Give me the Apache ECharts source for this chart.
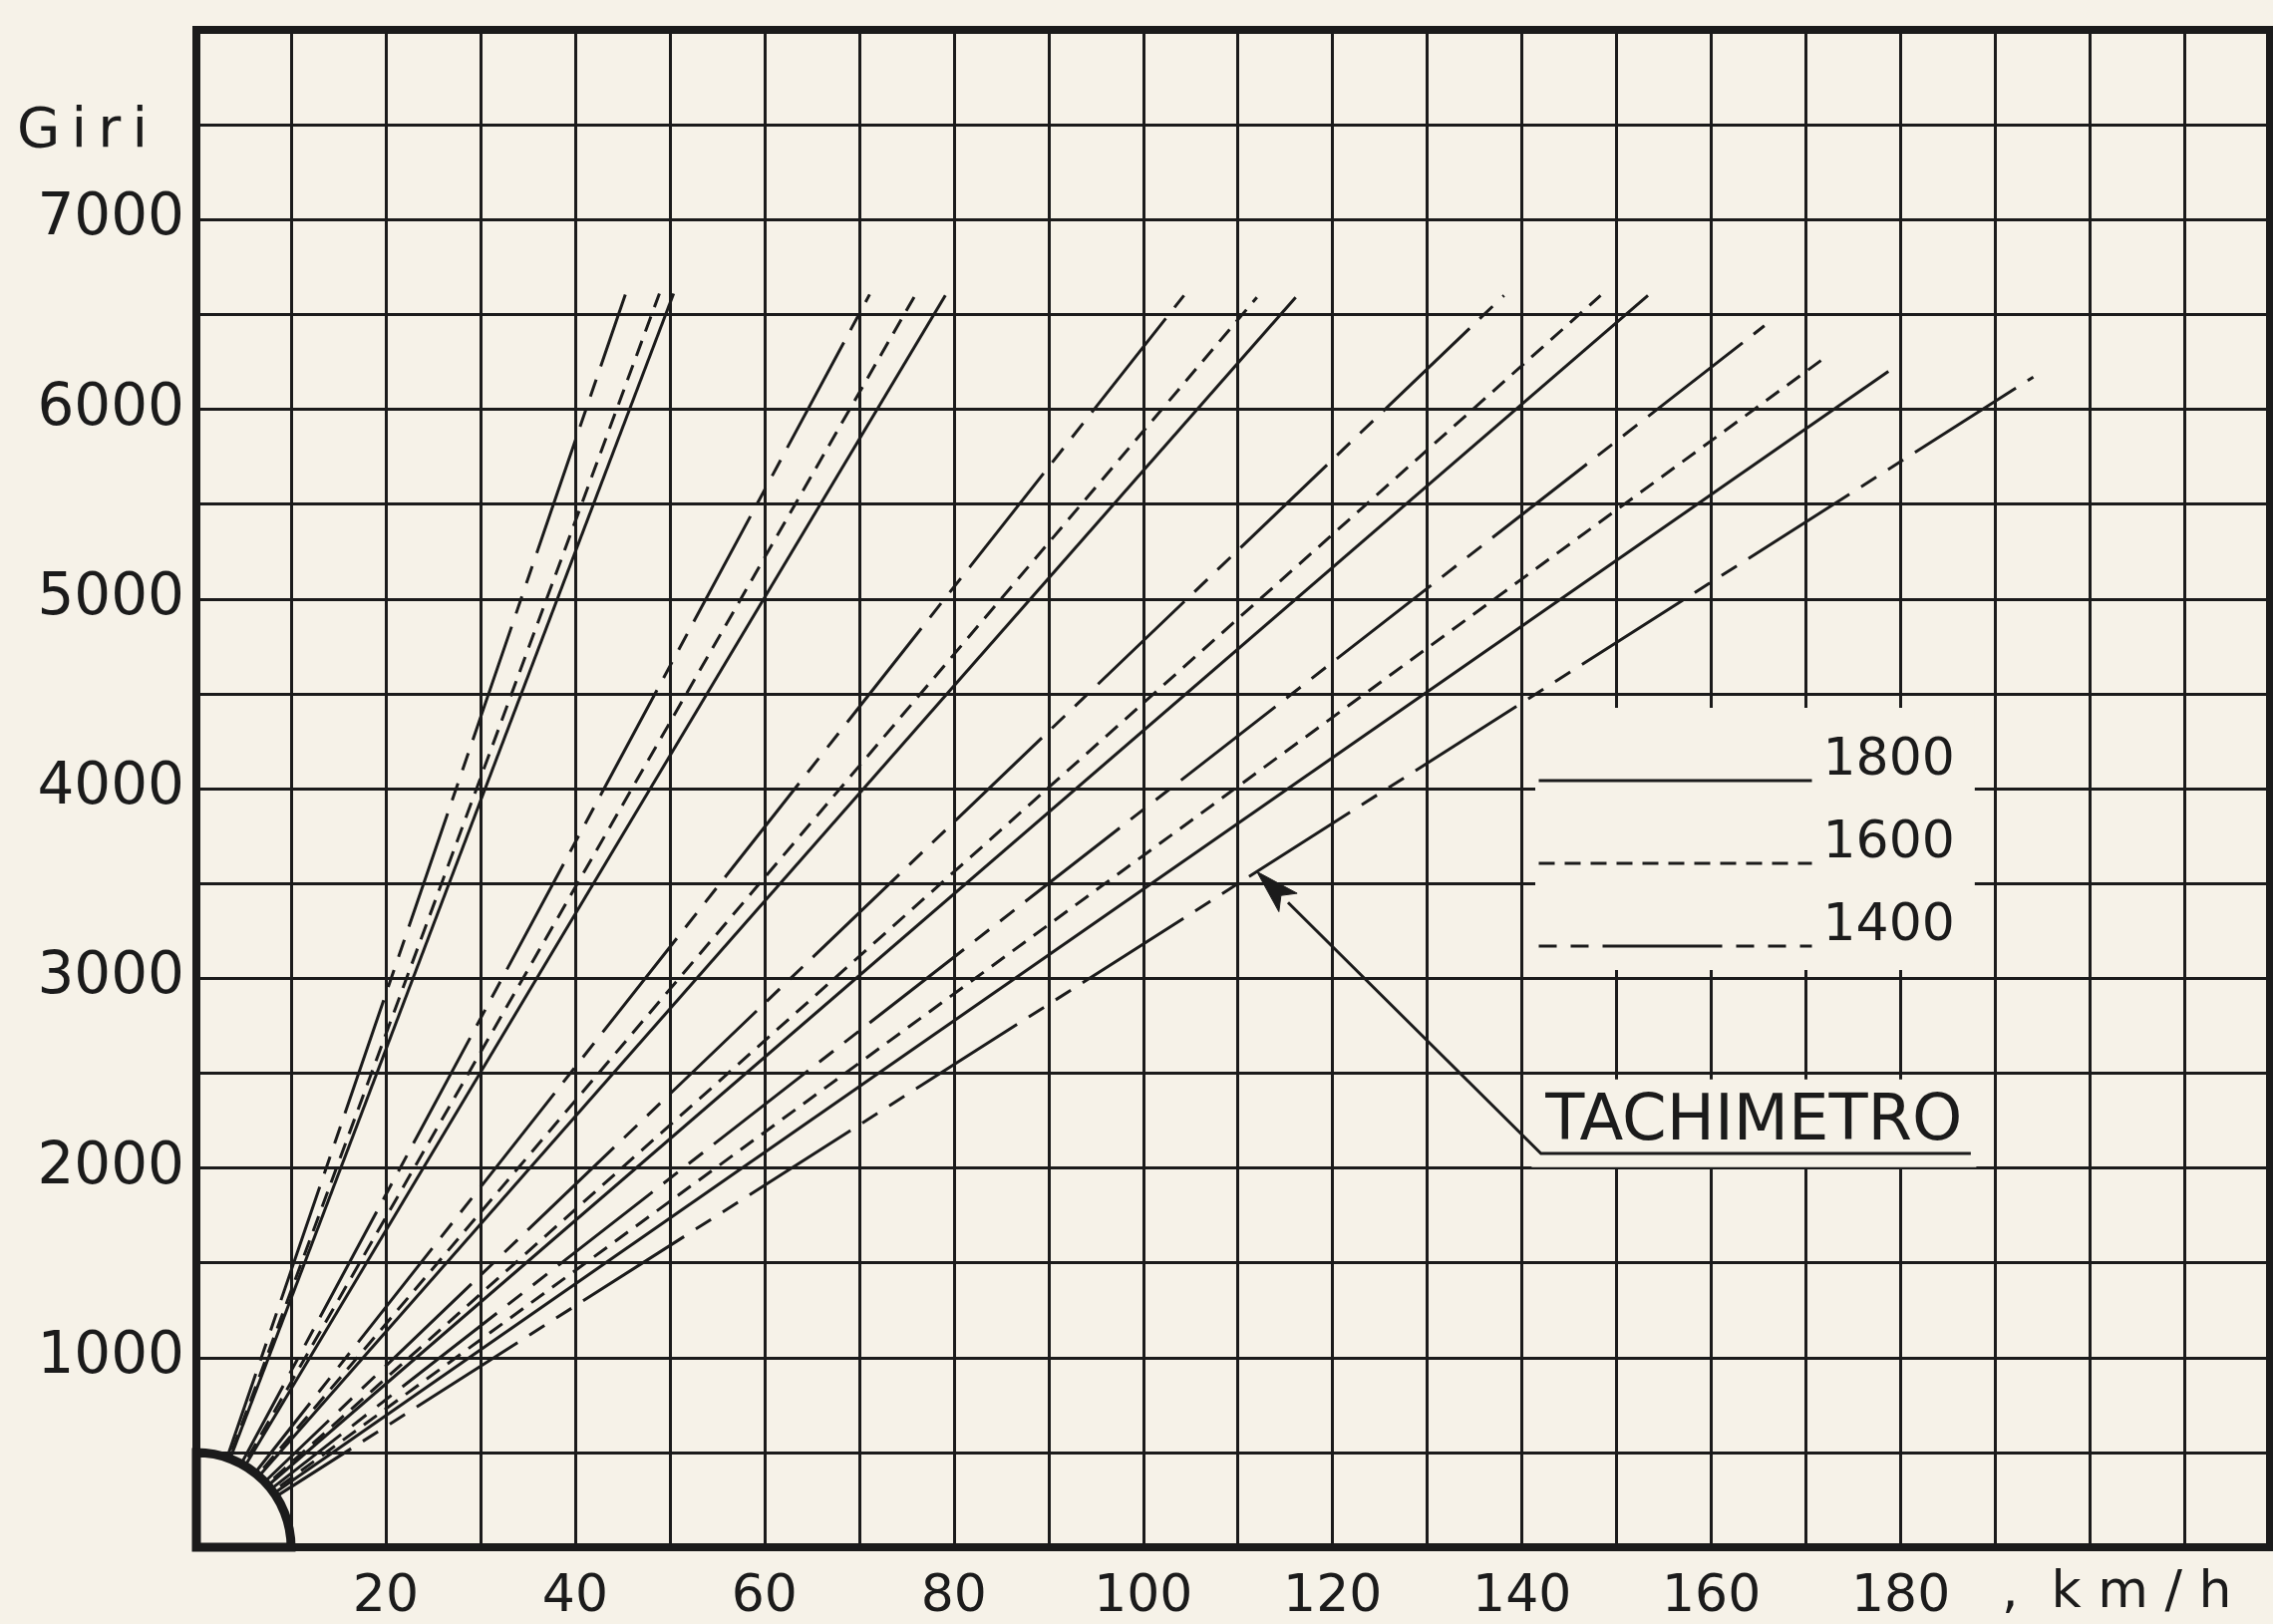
<!DOCTYPE html>
<html>
<head>
<meta charset="utf-8">
<title>Giri - km/h</title>
<script src="https://cdn.jsdelivr.net/npm/echarts@6/dist/echarts.min.js"></script>
<style>
  html, body { margin: 0; padding: 0; background: #f6f2e8; }
  #chart { width: 2280px; height: 1629px; }
</style>
</head>
<body>
<div id="chart"></div>
<script>
// fine di ogni marcia: velocita (km/h) e giri motore, per cilindrata
const kmh1800 = [50.4, 79.1, 116.1, 153.3, 178.7];
const giri1800 = [6610, 6600, 6590, 6600, 6200];
const kmh1600 = [48.9, 75.9, 112.0, 148.3, 171.8];
const giri1600 = [6610, 6600, 6590, 6600, 6265];
const kmh1400 = [45.3, 71.1, 104.3, 138.1, 165.6, 194.0];
const giri1400 = [6605, 6605, 6600, 6600, 6440, 6170];

const cilindrate = ['1800', '1600', '1400'];
const xTicks = [20, 40, 60, 80, 100, 120, 140, 160, 180];
const yTicks = [1000, 2000, 3000, 4000, 5000, 6000, 7000];

const PAPER = '#f6f2e8';
const INK = '#1b1b1b';
const FONT = 'DejaVu Sans';

const tratti = {
  '1800': { type: 'solid', dashOffset: 0 },
  '1600': { type: [16, 10], dashOffset: 0 },
  '1400': { type: [120, 14, 18, 14, 18, 14], dashOffset: 134 }
};

function rette(nome, kmh, giri) {
  return kmh.map((v, i) => ({
    name: nome,
    type: 'line',
    data: [[0, 0], [v, giri[i]]],
    symbol: 'none',
    silent: true,
    z: 3,
    itemStyle: { color: INK },
    lineStyle: {
      color: INK,
      width: 3,
      type: tratti[nome].type,
      dashOffset: tratti[nome].dashOffset
    }
  }));
}

var chart = echarts.init(document.getElementById('chart'));

var serie = []
  .concat(rette('1800', kmh1800, giri1800))
  .concat(rette('1600', kmh1600, giri1600))
  .concat(rette('1400', kmh1400, giri1400));

// mozzo nell'angolo in basso a sinistra
serie.push({
  type: 'custom',
  name: 'mozzo',
  silent: true,
  z: 10,
  data: [[0, 0]],
  renderItem: function (params, api) {
    var o = api.coord([0, 0]);
    var r = api.size([10, 0])[0];
    return {
      type: 'sector',
      shape: { cx: o[0], cy: o[1], r: r, r0: 0, startAngle: -Math.PI / 2, endAngle: 0, clockwise: true },
      style: { fill: PAPER, stroke: INK, lineWidth: 9 }
    };
  }
});

var option = {
  backgroundColor: PAPER,
  animation: false,
  grid: {
    left: 197, right: 3, top: 30, bottom: 77,
    show: true, borderWidth: 8, borderColor: INK, backgroundColor: 'transparent'
  },
  xAxis: {
    type: 'value', min: 0, max: 219, interval: 10,
    axisLine: { show: false },
    axisTick: { show: false },
    splitLine: { show: true, lineStyle: { color: INK, width: 3 } },
    axisLabel: {
      margin: 24, fontFamily: FONT, fontSize: 52, color: INK,
      formatter: function (v) { return xTicks.indexOf(v) >= 0 ? String(v) : ''; }
    }
  },
  yAxis: {
    type: 'value', min: 0, max: 8000, interval: 500,
    axisLine: { show: false },
    axisTick: { show: false },
    splitLine: { show: true, lineStyle: { color: INK, width: 3 } },
    axisLabel: {
      margin: 12, fontFamily: FONT, fontSize: 58, color: INK,
      formatter: function (v) { return yTicks.indexOf(v) >= 0 ? String(v) : ''; }
    }
  },
  legend: {
    data: cilindrate,
    orient: 'vertical',
    left: 1540, top: 710,
    padding: [27, 20, -22, 2],
    itemGap: -9,
    itemWidth: 274,
    itemHeight: 4,
    selectedMode: false,
    backgroundColor: PAPER,
    lineStyle: { width: 3 },
    itemStyle: { opacity: 0 },
    formatter: function (name) { return '{t|' + name + '}'; },
    textStyle: {
      fontFamily: FONT, fontSize: 52, color: INK,
      rich: {
        t: {
          fontFamily: FONT, fontSize: 52, color: INK,
          lineHeight: 20, padding: [0, 0, 40, 6]
        }
      }
    }
  },
  series: serie
};

chart.setOption(option);

// annotazione TACHIMETRO con freccia verso l'ultima retta 1400
var ultima = kmh1400.length - 1;
var puntaKmh = 112;
var punta = chart.convertToPixel({ gridIndex: 0 }, [puntaKmh, giri1400[ultima] / kmh1400[ultima] * puntaKmh]);
var gomito = chart.convertToPixel({ gridIndex: 0 }, [142, 2076]);
var fine = chart.convertToPixel({ gridIndex: 0 }, [187.4, 2076]);
var testo = chart.convertToPixel({ gridIndex: 0 }, [164.5, 2235]);

var dx = punta[0] - gomito[0], dy = punta[1] - gomito[1];
var len = Math.sqrt(dx * dx + dy * dy);
var ux = dx / len, uy = dy / len;
var L = 44, W = 13;
var base = [punta[0] - ux * L, punta[1] - uy * L];
var nx = -uy, ny = ux;

chart.setOption({
  graphic: [
    {
      id: 'giri', type: 'text', left: 17, top: 104, silent: true,
      style: { text: 'G\u2009i\u2009r\u2009i', font: '56px "DejaVu Sans"', fill: INK }
    },
    {
      id: 'kmh', type: 'text', left: 2008, top: 1572, silent: true,
      style: { text: ',  k m / h', font: '52px "DejaVu Sans"', fill: INK }
    },
    {
      id: 'tachimetro', type: 'text', x: testo[0], y: testo[1], z: 20, silent: true,
      style: {
        text: 'TACHIMETRO', font: '64px "DejaVu Sans"', fill: INK,
        align: 'center', verticalAlign: 'middle',
        backgroundColor: PAPER, padding: [12, 14, 12, 14]
      }
    },
    {
      id: 'freccia', type: 'polyline', z: 21, silent: true,
      shape: { points: [fine, gomito, base] },
      style: { stroke: INK, lineWidth: 3, fill: null }
    },
    {
      id: 'punta', type: 'polygon', z: 21, silent: true,
      shape: {
        points: [
          punta,
          [base[0] + nx * W, base[1] + ny * W],
          [base[0] + ux * 10, base[1] + uy * 10],
          [base[0] - nx * W, base[1] - ny * W]
        ]
      },
      style: { fill: INK, stroke: INK, lineWidth: 1 }
    }
  ]
});
</script>
</body>
</html>
